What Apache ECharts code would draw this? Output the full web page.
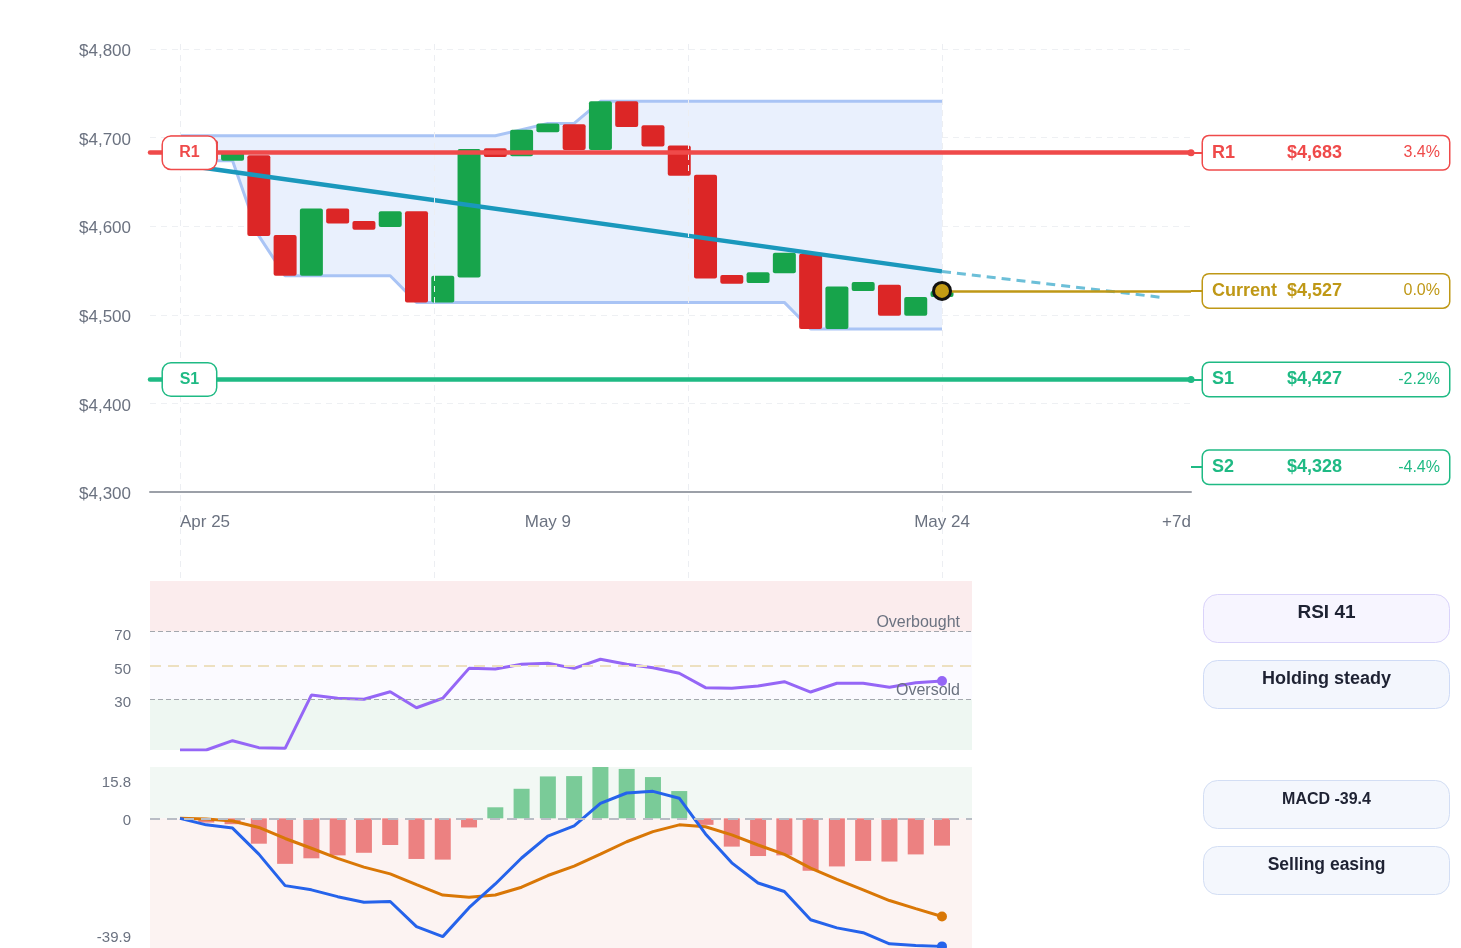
<!DOCTYPE html>
<html>
<head>
<meta charset="utf-8">
<script src="https://cdn.jsdelivr.net/npm/echarts@6/dist/echarts.min.js"></script>
<style>
  html, body { margin: 0; padding: 0; background: #ffffff; }
  #chart { width: 1461px; height: 948px; }
</style>
</head>
<body>
<div id="chart"></div>
<script>
// ---------------- DATA ----------------
const dates = ['Apr 25','Apr 26','Apr 27','Apr 28','Apr 29','Apr 30','May 1','May 2','May 3','May 4',
  'May 5','May 6','May 7','May 8','May 9','May 10','May 11','May 12','May 13','May 14',
  'May 15','May 16','May 17','May 18','May 19','May 20','May 21','May 22','May 23','May 24'];
const opens  = [4702,4697,4674,4680,4590,4544,4620,4606,4599,4617,4514,4542,4688,4679,4706,
                4715,4686,4741,4714,4691,4658,4545,4536,4547,4569,4484,4527,4534,4499,4520];
const closes = [4697,4674,4684,4589,4544,4620,4603,4596,4617,4514,4544,4687,4678,4709,4716,
                4686,4741,4712,4690,4657,4541,4535,4548,4570,4484,4532,4537,4499,4520,4527];
const bandUpper = [4702,4702,4702,4702,4702,4702,4702,4702,4702,4702,4702,4702,4702,4709,4716,
                   4716,4741,4741,4741,4741,4741,4741,4741,4741,4741,4741,4741,4741,4741,4741];
const bandLower = [4697,4674,4674,4589,4544,4544,4544,4544,4544,4514,4514,4514,4514,4514,4514,
                   4514,4514,4514,4514,4514,4514,4514,4514,4514,4484,4484,4484,4484,4484,4484];
const trendPts = [[0, 4669.6], [29, 4549]];
const projPts  = [[29, 4549], [37.4, 4519.5]];
const projLabel = '+7d';

const levelNames  = ['R1', 'Current', 'S1', 'S2'];
const levelValues = [4683, 4527, 4427, 4328];
const levelPct    = ['3.4%', '0.0%', '-2.2%', '-4.4%'];

const rsi = [0,0,5.5,1.4,1.0,32.5,30.6,30.0,34.5,25.0,30.6,48.3,47.9,50.7,51.3,
             48.3,53.7,50.7,48.7,45.4,36.9,36.5,37.9,40.4,34.3,39.5,39.5,37.1,39.8,40.8];
const rsiLevels = [30, 50, 70];
const rsiStatus = 'Holding steady';

const macd   = [0,-2.0,-3.0,-11.0,-20.7,-22.0,-24.1,-25.8,-25.6,-33.3,-36.4,-27.5,-20.2,-12.2,-5.5,
                -2.3,4.6,7.8,8.3,6.2,-4.8,-13.7,-19.9,-22.5,-31.2,-33.7,-35.2,-38.6,-39.1,-39.4];
const signal = [0,-0.2,-0.8,-2.8,-6.2,-9.2,-12.3,-15.0,-17.1,-20.4,-23.6,-24.3,-23.6,-21.2,-17.6,
                -14.7,-11.0,-7.2,-4.1,-2.0,-2.6,-5.1,-8.2,-11.1,-15.3,-18.8,-22.0,-25.3,-27.8,-30.2];
const hist   = [0,-1.3,-1.8,-7.8,-14.0,-12.3,-11.4,-10.6,-8.2,-12.5,-12.7,-2.8,3.4,9.1,12.9,
                13.0,15.8,15.2,12.7,8.4,-2.0,-8.7,-11.6,-11.4,-16.1,-14.8,-13.1,-13.3,-11.1,-8.4];
const macdMin = -39.9, macdMax = 15.8;
const macdStatus = 'Selling easing';

const xLabelIdx = [0, 14, 29];

// ---------------- LAYOUT CONSTANTS ----------------
const FONT = '"Liberation Sans", Arial, Helvetica, sans-serif';
const LAST = dates.length - 1;
const XMIN = -1.142, XMAX_MAIN = 38.476, XMAX_SUB = 30.142;
const vGrid = [0, LAST / 3, 2 * LAST / 3, LAST];
const RED = '#ef4a4a', GOLD = '#bf9816', GREEN = '#1fba84';
const levelColors = [RED, GOLD, GREEN, GREEN];
const GRAY = '#6b7280';
const CLEAR = 'rgba(0,0,0,0)';

const chart = echarts.init(document.getElementById('chart'), null, { renderer: 'canvas' });

const idxPts = arr => arr.map((v, i) => [i, v]);
const lastDot = (size) => (v, p) => (p.dataIndex === LAST ? size : 0);

const option = {
  animation: false,
  backgroundColor: '#ffffff',
  textStyle: { fontFamily: FONT },
  grid: [
    { left: 150, right: 270, top: 49, height: 443 },          // 0 main
    { left: 1191, right: 12, top: 49, height: 443 },          // 1 level boxes
    { left: 150, width: 822, top: 581, height: 169 },         // 2 RSI
    { left: 150, width: 822, top: 767, height: 181 },         // 3 MACD
    { left: 150, right: 270, top: 44, height: 534 }           // 4 vertical guides
  ],
  xAxis: [
    { gridIndex: 0, type: 'value', min: XMIN, max: XMAX_MAIN,
      axisLine: { show: true, onZero: false, lineStyle: { color: '#9ca0a8', width: 2 } },
      axisTick: { show: false }, splitLine: { show: false },
      axisLabel: {
        customValues: xLabelIdx.concat([XMAX_MAIN]),
        margin: 22, color: GRAY, fontSize: 17, fontFamily: FONT,
        formatter: v => {
          if (Math.abs(v - XMAX_MAIN) < 1e-6) return '{r|' + projLabel + '}';
          const i = Math.round(v);
          if (i === 0) return '{l|' + dates[0] + '}';
          return dates[i];
        },
        rich: {
          l: { padding: [0, 0, 0, 50], color: GRAY, fontSize: 17, fontFamily: FONT },
          r: { padding: [0, 29, 0, 0], color: GRAY, fontSize: 17, fontFamily: FONT }
        }
      } },
    { gridIndex: 1, type: 'value', min: 0, max: 1, show: false },
    { gridIndex: 2, type: 'value', min: XMIN, max: XMAX_SUB, show: false },
    { gridIndex: 3, type: 'value', min: XMIN, max: XMAX_SUB, show: false },
    { gridIndex: 4, type: 'value', min: XMIN, max: XMAX_MAIN, show: false }
  ],
  yAxis: [
    { gridIndex: 0, type: 'value', min: 4300, max: 4800, interval: 100,
      axisLine: { show: false }, axisTick: { show: false },
      axisLabel: { color: GRAY, fontSize: 17, margin: 19, fontFamily: FONT,
        formatter: v => '{p|$' + v.toLocaleString('en-US') + '}',
        rich: { p: { padding: [5, 0, 0, 0], color: GRAY, fontSize: 17, fontFamily: FONT } } },
      splitLine: { lineStyle: { color: '#eef0f3', type: [6, 5] } } },
    { gridIndex: 1, type: 'value', min: 4300, max: 4800, show: false },
    { gridIndex: 2, type: 'value', min: 0, max: 100,
      axisLine: { show: false }, axisTick: { show: false }, splitLine: { show: false },
      axisLabel: { customValues: rsiLevels, color: GRAY, fontSize: 15, margin: 19, fontFamily: FONT,
        formatter: v => '{p|' + v + '}',
        rich: { p: { padding: [8, 0, 0, 0], color: GRAY, fontSize: 15, fontFamily: FONT } } } },
    { gridIndex: 3, type: 'value', min: macdMin, max: macdMax,
      axisLine: { show: false }, axisTick: { show: false }, splitLine: { show: false },
      axisLabel: { customValues: [macdMin, 0, macdMax], color: GRAY, fontSize: 15, margin: 19, fontFamily: FONT,
        verticalAlignMinLabel: 'bottom', verticalAlignMaxLabel: 'top',
        formatter: v => (v === 0 ? '{z|0}' : v === macdMax ? '{t|' + v.toFixed(1) + '}' : '{b|' + v.toFixed(1) + '}'),
        rich: {
          z: { padding: [6, 0, 0, 0], color: GRAY, fontSize: 15, fontFamily: FONT },
          t: { padding: [8, 0, 0, 0], color: GRAY, fontSize: 15, fontFamily: FONT },
          b: { padding: [0, 0, 3, 0], color: GRAY, fontSize: 15, fontFamily: FONT }
        } } },
    { gridIndex: 4, type: 'value', min: 0, max: 1, show: false }
  ],
  series: [
    // vertical dashed guides
    { type: 'line', xAxisIndex: 4, yAxisIndex: 4, data: [[0, 0.5]], symbol: 'none', lineStyle: { opacity: 0 }, z: 0, silent: true,
      markLine: { silent: true, symbol: 'none', label: { show: false },
        lineStyle: { color: '#eceef2', type: [6, 5], width: 1 },
        data: vGrid.map(v => ({ xAxis: v })) } },
    // band fill
    { type: 'custom', xAxisIndex: 0, yAxisIndex: 0, z: 1, silent: true,
      data: bandUpper.map((u, i) => [i, u, bandLower[i]]),
      encode: { x: 0, y: [1, 2] },
      renderItem: (params, api) => {
        if (params.dataIndex !== 0) return null;
        const pts = [];
        for (let i = 0; i < bandUpper.length; i++) pts.push(api.coord([i, bandUpper[i]]));
        for (let i = bandLower.length - 1; i >= 0; i--) pts.push(api.coord([i, bandLower[i]]));
        return { type: 'polygon', shape: { points: pts }, style: { fill: '#e9f0fd' } };
      } },
    // band lines
    { type: 'line', xAxisIndex: 0, yAxisIndex: 0, data: idxPts(bandLower),
      symbol: 'none', lineStyle: { color: '#a9c4f5', width: 3 }, z: 1, silent: true },
    { type: 'line', xAxisIndex: 0, yAxisIndex: 0, data: idxPts(bandUpper),
      symbol: 'none', lineStyle: { color: '#a9c4f5', width: 3 }, z: 1, silent: true },
    // level lines
    { type: 'line', xAxisIndex: 0, yAxisIndex: 0, data: [], z: 2, silent: true,
      markLine: { silent: true, symbol: 'none', label: { show: false },
        data: [
          [ { coord: [XMIN, levelValues[0]], lineStyle: { color: RED, width: 4.5, type: 'solid', cap: 'round' } },
            { coord: [XMAX_MAIN, levelValues[0]], symbol: 'circle', symbolSize: 7 } ],
          [ { coord: [XMIN, levelValues[2]], lineStyle: { color: GREEN, width: 4.5, type: 'solid', cap: 'round' } },
            { coord: [XMAX_MAIN, levelValues[2]], symbol: 'circle', symbolSize: 7 } ],
          [ { coord: [LAST, levelValues[1]], lineStyle: { color: GOLD, width: 2.5, type: 'solid' } },
            { coord: [XMAX_MAIN, levelValues[1]] } ]
        ] } },
    // candles
    { type: 'custom', xAxisIndex: 0, yAxisIndex: 0, z: 3, silent: true,
      data: dates.map((d, i) => [i, opens[i], closes[i]]),
      encode: { x: 0, y: [1, 2] },
      renderItem: (params, api) => {
        const x = api.value(0), o = api.value(1), c = api.value(2);
        const p1 = api.coord([x, o]), p2 = api.coord([x, c]);
        const w = api.size([1, 0])[0] * 0.875;
        const top = Math.min(p1[1], p2[1]);
        const h = Math.max(Math.abs(p1[1] - p2[1]), 2);
        return { type: 'rect', shape: { x: p1[0] - w / 2, y: top, width: w, height: h, r: 2 },
          style: { fill: c >= o ? '#17a44b' : '#dc2626' } };
      } },
    // trend line
    { type: 'line', xAxisIndex: 0, yAxisIndex: 0, data: trendPts, symbol: 'none', z: 4, silent: true,
      lineStyle: { color: '#1a98bc', width: 4.5 } },
    { type: 'line', xAxisIndex: 0, yAxisIndex: 0, data: projPts, symbol: 'none', z: 4, silent: true,
      lineStyle: { color: '#6cbfd8', width: 3, type: [9, 6] } },
    // current price marker
    { type: 'scatter', xAxisIndex: 0, yAxisIndex: 0, data: [[LAST, levelValues[1]]], z: 6, silent: true,
      symbolSize: 17, itemStyle: { color: '#c39b14', borderColor: '#111111', borderWidth: 3, opacity: 1 } },
    // left badges
    { type: 'scatter', xAxisIndex: 0, yAxisIndex: 0, z: 7, silent: true, symbolSize: 2,
      itemStyle: { color: CLEAR, opacity: 1 },
      data: [0, 2].map(k => ({
        value: [0.36, levelValues[k], levelNames[k]],
        label: { color: levelColors[k], borderColor: levelColors[k] }
      })),
      label: { show: true, position: 'inside', formatter: p => p.value[2],
        fontSize: 16, fontWeight: 'bold', fontFamily: FONT,
        backgroundColor: '#ffffff', borderWidth: 1.5, borderRadius: 8,
        width: 53, height: 32, lineHeight: 32, align: 'center', verticalAlign: 'middle' } },
    // right level boxes
    { type: 'scatter', xAxisIndex: 1, yAxisIndex: 1, z: 7, silent: true, symbolSize: 2,
      itemStyle: { color: CLEAR, opacity: 1 },
      data: levelNames.map((n, k) => ({
        value: [0.0465, levelValues[k]],
        label: {
          borderColor: levelColors[k],
          formatter: '{a|' + n + '}{b|$' + levelValues[k].toLocaleString('en-US') + '}{c|' + levelPct[k] + '}',
          rich: {
            a: { width: 75, fontSize: 18, fontWeight: 'bold', color: levelColors[k], fontFamily: FONT, lineHeight: 33 },
            b: { width: 100, fontSize: 18, fontWeight: 'bold', color: levelColors[k], fontFamily: FONT, lineHeight: 33 },
            c: { width: 53, align: 'right', fontSize: 16, color: levelColors[k], fontFamily: FONT, lineHeight: 33 }
          }
        }
      })),
      label: { show: true, position: 'right', distance: -1, backgroundColor: '#ffffff',
        borderWidth: 1.5, borderRadius: 6, padding: [0, 9] },
      markLine: { silent: true, symbol: 'none', label: { show: false },
        data: levelNames.map((n, k) => [
          { coord: [0, levelValues[k]], lineStyle: { color: levelColors[k], width: 2, type: 'solid' } },
          { coord: [0.0465, levelValues[k]] }
        ]) } },
    // RSI background & guides
    { type: 'line', xAxisIndex: 2, yAxisIndex: 2, data: [], z: 1, silent: true,
      markArea: { silent: true, data: [
        [{ yAxis: 70, itemStyle: { color: '#fbeced' } }, { yAxis: 100 }],
        [{ yAxis: 30, itemStyle: { color: '#fbfaff' } }, { yAxis: 70 }],
        [{ yAxis: 0, itemStyle: { color: '#eef7f2' } }, { yAxis: 30 }]
      ] },
      markLine: { silent: true, symbol: 'none',
        data: [
          { yAxis: 70, lineStyle: { color: '#a3a7ae', width: 1, type: [5, 3] },
            label: { show: true, position: 'insideEndTop', formatter: 'Overbought', distance: [12, 1],
              color: GRAY, fontSize: 16, fontFamily: FONT } },
          { yAxis: 30, lineStyle: { color: '#a3a7ae', width: 1, type: [5, 3] },
            label: { show: true, position: 'insideEndTop', formatter: 'Oversold', distance: [12, 1],
              color: GRAY, fontSize: 16, fontFamily: FONT } },
          { yAxis: 50, lineStyle: { color: '#ede0c0', width: 2, type: [11, 7] }, label: { show: false } }
        ] } },
    // RSI line
    { type: 'line', xAxisIndex: 2, yAxisIndex: 2, data: idxPts(rsi), z: 3, silent: true,
      symbol: 'circle', symbolSize: lastDot(10), showAllSymbol: true,
      lineStyle: { color: '#9566f6', width: 3 }, itemStyle: { color: '#9566f6' } },
    // MACD background
    { type: 'line', xAxisIndex: 3, yAxisIndex: 3, data: [], z: 0, silent: true,
      markArea: { silent: true, data: [
        [{ yAxis: 0, itemStyle: { color: '#f2f8f4' } }, { yAxis: macdMax }],
        [{ yAxis: macdMin, itemStyle: { color: '#fcf3f2' } }, { yAxis: 0 }]
      ] } },
    // histogram
    { type: 'bar', xAxisIndex: 3, yAxisIndex: 3, z: 1, silent: true, barWidth: 16,
      data: hist.map((v, i) => ({ value: [i, v], itemStyle: { color: v >= 0 ? '#7acb98' : '#ec8181' } })) },
    // zero line
    { type: 'line', xAxisIndex: 3, yAxisIndex: 3, data: [], z: 2, silent: true,
      markLine: { silent: true, symbol: 'none', label: { show: false },
        data: [{ yAxis: 0, lineStyle: { color: '#b9bdc5', width: 2, type: [10, 7] } }] } },
    // signal
    { type: 'line', xAxisIndex: 3, yAxisIndex: 3, data: idxPts(signal), z: 3, silent: true,
      symbol: 'circle', symbolSize: lastDot(10), showAllSymbol: true,
      lineStyle: { color: '#d97706', width: 3 }, itemStyle: { color: '#d97706' } },
    // MACD
    { type: 'line', xAxisIndex: 3, yAxisIndex: 3, data: idxPts(macd), z: 3, silent: true,
      symbol: 'circle', symbolSize: lastDot(10), showAllSymbol: true,
      lineStyle: { color: '#2563eb', width: 3 }, itemStyle: { color: '#2563eb' } }
  ],
  graphic: [
    { type: 'group', left: 1203, top: 594, children: [
      { type: 'rect', shape: { x: 0, y: 0, width: 246, height: 48, r: 14 },
        style: { fill: '#f7f5ff', stroke: '#dad3fa', lineWidth: 1 } },
      { type: 'text', style: { x: 123, y: 18, text: 'RSI ' + Math.round(rsi[LAST]), align: 'center', verticalAlign: 'middle',
        font: 'bold 19px ' + FONT, fill: '#1e2233' } } ] },
    { type: 'group', left: 1203, top: 660, children: [
      { type: 'rect', shape: { x: 0, y: 0, width: 246, height: 48, r: 14 },
        style: { fill: '#f3f6fd', stroke: '#cfdbf6', lineWidth: 1 } },
      { type: 'text', style: { x: 123, y: 19, text: rsiStatus, align: 'center', verticalAlign: 'middle',
        font: 'bold 18px ' + FONT, fill: '#1e2233' } } ] },
    { type: 'group', left: 1203, top: 780, children: [
      { type: 'rect', shape: { x: 0, y: 0, width: 246, height: 48, r: 14 },
        style: { fill: '#f4f7fd', stroke: '#d3def4', lineWidth: 1 } },
      { type: 'text', style: { x: 123, y: 19, text: 'MACD ' + macd[LAST].toFixed(1), align: 'center', verticalAlign: 'middle',
        font: 'bold 16px ' + FONT, fill: '#1e2233' } } ] },
    { type: 'group', left: 1203, top: 846, children: [
      { type: 'rect', shape: { x: 0, y: 0, width: 246, height: 48, r: 14 },
        style: { fill: '#f4f7fd', stroke: '#d3def4', lineWidth: 1 } },
      { type: 'text', style: { x: 123, y: 19, text: macdStatus, align: 'center', verticalAlign: 'middle',
        font: 'bold 17.5px ' + FONT, fill: '#1e2233' } } ] }
  ]
};
chart.setOption(option);
</script>
</body>
</html>
